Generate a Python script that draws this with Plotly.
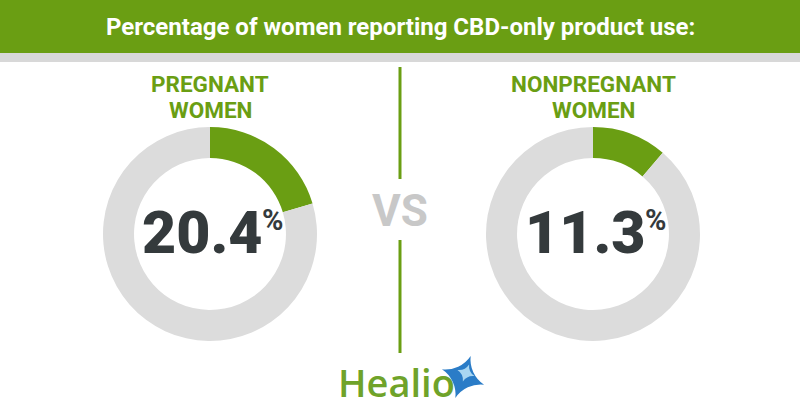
import plotly.graph_objects as go

title = "Percentage of women reporting CBD-only product use:"
groups = ["PREGNANT WOMEN", "NONPREGNANT WOMEN"]
cbd_only_pct = [20.4, 11.3]

GREEN = "#6a9e13"
RING = "#dcdcdc"
DARK = "#343a3c"
W, H = 800, 420

centers_x = [210, 593]
center_y = 234
R = 107

fig = go.Figure()

for i, (g, v) in enumerate(zip(groups, cbd_only_pct)):
    cx = centers_x[i]
    fig.add_trace(go.Pie(
        values=[v, 100 - v],
        sort=False, direction="clockwise", rotation=0,
        hole=0.71,
        marker=dict(colors=[GREEN, RING], line=dict(width=0)),
        textinfo="none", hoverinfo="skip", showlegend=False,
        domain=dict(x=[(cx - R) / W, (cx + R) / W],
                    y=[(H - center_y - R) / H, (H - center_y + R) / H]),
    ))
    line1, line2 = g.rsplit(" ", 1)
    for txt, yy in ((line1, 84), (line2, 110)):
        fig.add_annotation(x=cx, y=yy, xref="x", yref="y", text=txt, showarrow=False,
                           font=dict(family="Roboto", size=22.5, color=GREEN, weight="bold"),
                           align="center", yanchor="middle")
    fig.add_annotation(x=cx - 8, y=232, xref="x", yref="y", text=f"{v:.1f}", showarrow=False,
                       font=dict(family="Roboto", size=59, color=DARK, weight=900),
                       yanchor="middle", xanchor="center")
    fig.add_annotation(x=cx + 62, y=220, xref="x", yref="y", text="%", showarrow=False,
                       font=dict(family="Roboto", size=29, color=DARK, weight="bold"),
                       yanchor="middle", xanchor="center")

# banner
fig.add_shape(type="rect", xref="x", yref="y", x0=0, x1=W, y0=0, y1=53,
              fillcolor=GREEN, line_width=0, layer="below")
fig.add_shape(type="rect", xref="x", yref="y", x0=0, x1=W, y0=53, y1=62,
              fillcolor="#d8d8d8", line_width=0, layer="below")
fig.add_annotation(x=400, y=27, xref="x", yref="y", text=title, showarrow=False,
                   font=dict(family="Roboto", size=24, color="white", weight="bold"),
                   yanchor="middle")

# divider
fig.add_shape(type="line", xref="x", yref="y", x0=400, x1=400, y0=67, y1=179,
              line=dict(color=GREEN, width=3))
fig.add_shape(type="line", xref="x", yref="y", x0=400, x1=400, y0=240, y1=353,
              line=dict(color=GREEN, width=3))
fig.add_annotation(x=400, y=211, xref="x", yref="y", text="VS", showarrow=False,
                   font=dict(family="Roboto", size=44, color="#c8c8c8", weight="bold"),
                   yanchor="middle")

# logo
fig.add_annotation(x=396, y=382, xref="x", yref="y", text="Healio", showarrow=False,
                   font=dict(family="Open Sans", size=38, color="#6fa32a", weight=600),
                   yanchor="middle", xanchor="center")
fig.add_trace(go.Scatter(x=[463], y=[377], mode="markers", hoverinfo="skip", showlegend=False,
                         marker=dict(symbol="star-diamond", size=32, color="#2a7cc7", angle=20,
                                     line=dict(width=0))))
fig.add_trace(go.Scatter(x=[466], y=[373], mode="markers", hoverinfo="skip", showlegend=False,
                         marker=dict(symbol="star-diamond", size=13, color="#a8d6f2", angle=20,
                                     line=dict(width=0))))

fig.update_layout(
    width=W, height=H, margin=dict(l=0, r=0, t=0, b=0),
    paper_bgcolor="white", plot_bgcolor="rgba(0,0,0,0)",
    xaxis=dict(range=[0, W], visible=False, fixedrange=True),
    yaxis=dict(range=[H, 0], visible=False, fixedrange=True),
    showlegend=False,
)

fig.write_html("out.html", post_script="document.body.style.margin='0';",
               config={"displayModeBar": False})
